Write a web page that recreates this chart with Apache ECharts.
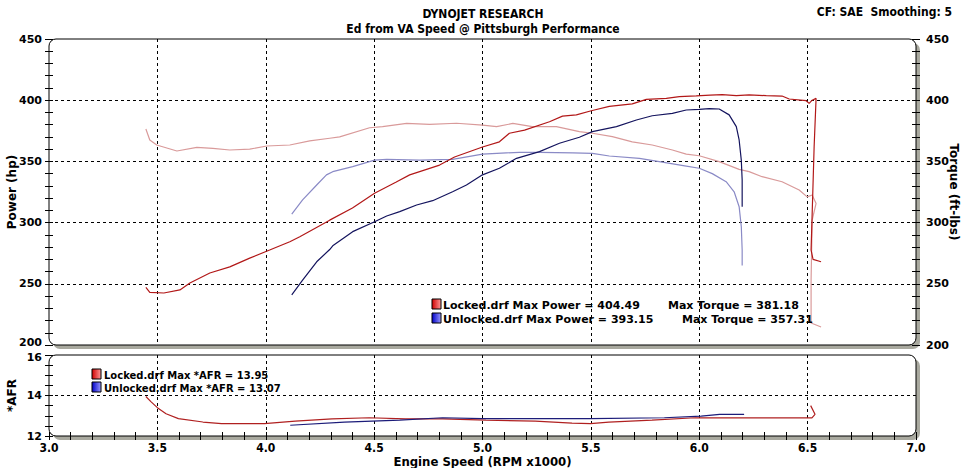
<!DOCTYPE html>
<html>
<head>
<meta charset="utf-8">
<style>
html,body{margin:0;padding:0;background:#fff;}
#chart{width:966px;height:468px;}
</style>
<script src="https://cdn.jsdelivr.net/npm/echarts@6/dist/echarts.min.js"></script>
</head>
<body>
<div id="chart"></div>
<script>
// ---------- data (rpm x1000, value) ----------
const lockedPower = [[3.447,247],[3.465,243],[3.53,242.5],[3.604,245],[3.65,250.6],[3.742,258.8],[3.834,263.8],[3.926,271],[4.018,277.6],[4.111,284.4],[4.157,288.5],[4.295,302],[4.40,312],[4.502,324],[4.60,333],[4.664,339],[4.802,347],[4.871,353.6],[5.0,361.8],[5.078,366],[5.124,373],[5.194,375.6],[5.309,382.4],[5.369,387],[5.433,388],[5.502,391.4],[5.585,395],[5.691,397],[5.756,400.7],[5.848,401.5],[5.908,402.9],[5.986,403.5],[6.05,404.2],[6.106,404.49],[6.171,403.7],[6.23,404.4],[6.309,403.7],[6.382,403.4],[6.415,401],[6.493,399.6],[6.507,397.4],[6.521,400],[6.539,401.5],[6.53,362],[6.521,307.6],[6.516,277.6],[6.525,270],[6.562,268]];
const lockedTorque = [[3.447,376.5],[3.465,367.5],[3.497,363.4],[3.59,358.5],[3.682,361.5],[3.756,360.7],[3.834,359.3],[3.926,360],[4.005,362.6],[4.111,363.4],[4.203,366.7],[4.295,368.9],[4.341,370],[4.479,377.5],[4.539,378.4],[4.65,381],[4.756,380.3],[4.88,381.18],[5.0,379.7],[5.065,378.4],[5.14,381],[5.23,378.4],[5.341,378.4],[5.447,374.3],[5.507,373],[5.599,370.2],[5.691,366],[5.783,363.4],[5.876,359.3],[5.94,356],[6.0,354.6],[6.092,349.8],[6.184,343.5],[6.23,341.6],[6.29,337.5],[6.382,333.4],[6.461,326.6],[6.498,321],[6.521,322.5],[6.539,315.7],[6.521,302],[6.516,253],[6.516,218],[6.562,214.7]];
const unlockedPower = [[4.12,240.9],[4.17,253],[4.235,268],[4.295,278],[4.309,281],[4.401,292.6],[4.502,300.7],[4.558,305.4],[4.618,309],[4.696,314.4],[4.77,317.9],[4.862,325.2],[4.926,330.7],[5.0,339],[5.078,344.4],[5.157,352.5],[5.263,358],[5.355,364.8],[5.447,369.7],[5.507,374.3],[5.618,378.4],[5.71,383.8],[5.783,387.3],[5.876,389.3],[5.94,392],[6.0,392.5],[6.046,393.15],[6.092,392.8],[6.138,388],[6.171,378.4],[6.184,367.5],[6.194,351],[6.198,334.8],[6.198,313]];
const unlockedTorque = [[4.12,307],[4.17,318.5],[4.235,330.7],[4.28,339],[4.309,341.6],[4.401,345.7],[4.502,351],[4.558,351.7],[4.71,351],[4.862,351.7],[5.0,356],[5.11,357],[5.17,357.31],[5.263,357.3],[5.417,357],[5.507,356.5],[5.585,354.4],[5.724,352.5],[5.816,349.8],[5.94,346.2],[6.0,344.4],[6.06,340],[6.124,333.4],[6.161,325.2],[6.184,313],[6.194,296.7],[6.198,277.6],[6.198,265]];
const lockedAFR = [[3.447,13.95],[3.47,13.7],[3.5,13.4],[3.54,13.1],[3.597,12.86],[3.71,12.69],[3.796,12.61],[3.994,12.61],[4.136,12.73],[4.306,12.85],[4.477,12.9],[4.645,12.85],[4.816,12.85],[5.016,12.78],[5.243,12.73],[5.413,12.64],[5.498,12.61],[5.583,12.69],[5.782,12.78],[5.981,12.9],[6.18,12.9],[6.52,12.9],[6.534,13.07],[6.514,13.5]];
const unlockedAFR = [[4.113,12.53],[4.363,12.69],[4.618,12.78],[4.816,12.9],[5.0,12.86],[5.215,12.86],[5.498,12.86],[5.839,12.9],[6.009,12.98],[6.094,13.07],[6.207,13.07]];

const runNames = ['Locked.drf', 'Unlocked.drf'];
const maxPower = ['404.49', '393.15'];
const maxTorque = ['381.18', '357.31'];
const maxAFR = ['13.95', '13.07'];

// ---------- layout ----------
const G0 = {left:49, top:39, width:867, height:306};
const G1 = {left:49, top:355, width:867, height:81};
const cond = "'DejaVu Sans Condensed','Liberation Sans Narrow','DejaVu Sans',sans-serif";
const wide = "'DejaVu Sans',Verdana,sans-serif";

const dashed = {show:true, showMinLine:false, showMaxLine:false, lineStyle:{color:'#000', type:[3,3], width:1}};
const tickStyle = {color:'#000', width:1};

function yAx(grid, pos, min, max, interval, minorSplit, inside, extra){
  return Object.assign({
    type:'value', gridIndex:grid, position:pos, min:min, max:max, interval:interval,
    axisLine:{show:false},
    axisTick:{show:true, inside:inside, length:4, lineStyle:tickStyle},
    minorTick:{show:true, splitNumber:minorSplit, length:4, lineStyle:tickStyle},
    axisLabel:{show:false},
    splitLine:{show:false},
    nameMoveOverlap:false
  }, extra||{});
}

const chart = echarts.init(document.getElementById('chart'), null, {renderer:'svg'});

const legendIcon = (x, y, dark, light) => ({
  type:'rect', shape:{x:x, y:y, width:9, height:10},
  style:{fill:new echarts.graphic.LinearGradient(0,0,1,0,[{offset:0,color:dark},{offset:1,color:light}]), stroke:'#000', lineWidth:1}, z:10
});
const txt = (x, y, text, font) => ({
  type:'text', x:x, y:y, z:10,
  style:{text:text, font:font, fill:'#000', verticalAlign:'middle', align:'left'}
});

const option = {
  animation:false,
  backgroundColor:'#fff',
  title:[
    {text:'DYNOJET RESEARCH', left:'center', top:3, textStyle:{fontFamily:cond, fontSize:12, fontWeight:'bold', color:'#000'}},
    {text:'Ed from VA Speed @ Pittsburgh Performance', left:'center', top:18, textStyle:{fontFamily:cond, fontSize:12, fontWeight:'bold', color:'#000'}},
    {text:'CF: SAE  Smoothing: 5', right:9, top:1, textStyle:{fontFamily:cond, fontSize:12, fontWeight:'bold', color:'#000'}}
  ],
  grid:[
    Object.assign({}, G0, {containLabel:false, outerBoundsMode:'none'}),
    Object.assign({}, G1, {containLabel:false, outerBoundsMode:'none'})
  ],
  xAxis:[
    {type:'value', gridIndex:0, min:3, max:7, interval:0.5, axisLine:{show:false}, axisTick:{show:false}, axisLabel:{show:false}, splitLine:dashed},
    {type:'value', gridIndex:1, min:3, max:7, interval:0.5, position:'bottom',
      axisLine:{show:false},
      axisTick:{show:true, inside:false, length:4, lineStyle:tickStyle},
      minorTick:{show:true, splitNumber:5, length:4, lineStyle:tickStyle},
      axisLabel:{show:true, margin:6, formatter:v=>v.toFixed(1), fontFamily:cond, fontSize:12, fontWeight:'bold', color:'#000'},
      splitLine:dashed,
      name:'Engine Speed (RPM x1000)', nameLocation:'middle', nameGap:19, nameMoveOverlap:false,
      nameTextStyle:{fontFamily:cond, fontSize:13, fontWeight:'bold', color:'#000'}
    },
    {type:'value', gridIndex:1, min:3, max:7, interval:0.5, position:'bottom',
      axisLine:{show:false},
      axisTick:{show:true, inside:true, length:4, lineStyle:tickStyle},
      minorTick:{show:true, splitNumber:5, length:4, lineStyle:tickStyle},
      axisLabel:{show:false}, splitLine:{show:false}
    }
  ],
  yAxis:[
    yAx(0,'left',200,450,50,5,false,{
      axisLabel:{show:true, margin:7, fontFamily:wide, fontSize:11, fontWeight:'bold', color:'#000',
        formatter:v => v === 200 ? '{lo|200}' : String(v),
        rich:{lo:{fontFamily:wide, fontSize:11, fontWeight:'bold', color:'#000', padding:[0,0,5,0]}}},
      splitLine:dashed,
      name:'Power (hp)', nameLocation:'middle', nameGap:31, nameRotate:90,
      nameTextStyle:{fontFamily:wide, fontSize:12, fontWeight:'bold', color:'#000'}
    }),
    yAx(0,'left',200,450,50,5,true),
    yAx(0,'right',200,450,50,5,false,{
      axisLabel:{show:true, margin:10, fontFamily:wide, fontSize:11, fontWeight:'bold', color:'#000'},
      name:'Torque (ft-lbs)', nameLocation:'middle', nameGap:32, nameRotate:-90,
      nameTextStyle:{fontFamily:wide, fontSize:12, fontWeight:'bold', color:'#000'}
    }),
    yAx(0,'right',200,450,50,5,true),
    yAx(1,'left',12,16,2,4,false,{
      axisLabel:{show:true, margin:7, fontFamily:wide, fontSize:11, fontWeight:'bold', color:'#000',
        formatter:v => v === 16 ? '{hi|16}' : String(v),
        rich:{hi:{fontFamily:wide, fontSize:11, fontWeight:'bold', color:'#000', padding:[5,0,0,0]}}},
      splitLine:dashed,
      name:'*AFR', nameLocation:'middle', nameGap:31, nameRotate:90,
      nameTextStyle:{fontFamily:wide, fontSize:12, fontWeight:'bold', color:'#000'}
    }),
    yAx(1,'left',12,16,2,4,true)
  ],
  graphic:[
    {type:'rect', shape:{x:G0.left+4, y:G0.top+4, width:G0.width, height:G0.height, r:7}, style:{fill:'#a9a99f'}, z:-20},
    {type:'rect', shape:{x:G0.left, y:G0.top, width:G0.width, height:G0.height, r:7}, style:{fill:'#fff', stroke:'#000', lineWidth:1}, z:-10},
    {type:'rect', shape:{x:G1.left+4, y:G1.top+4, width:G1.width, height:G1.height, r:7}, style:{fill:'#a9a99f'}, z:-20},
    {type:'rect', shape:{x:G1.left, y:G1.top, width:G1.width, height:G1.height, r:7}, style:{fill:'#fff', stroke:'#000', lineWidth:1}, z:-10},
    legendIcon(432, 299, '#d00000', '#ff9a9a'),
    txt(443, 305, runNames[0] + ' Max Power = ' + maxPower[0], 'bold 11px ' + wide),
    txt(668, 305, 'Max Torque = ' + maxTorque[0], 'bold 11px ' + wide),
    legendIcon(432, 313, '#0000c8', '#9a9aff'),
    txt(443, 319, runNames[1] + ' Max Power = ' + maxPower[1], 'bold 11px ' + wide),
    txt(682, 319, 'Max Torque = ' + maxTorque[1], 'bold 11px ' + wide),
    legendIcon(92, 369, '#d00000', '#ff9a9a'),
    txt(104, 375, runNames[0] + ' Max *AFR = ' + maxAFR[0], 'bold 10px ' + wide),
    legendIcon(92, 382, '#0000c8', '#9a9aff'),
    txt(104, 388, runNames[1] + ' Max *AFR = ' + maxAFR[1], 'bold 10px ' + wide)
  ],
  series:[
    {name:'Locked Torque', type:'line', xAxisIndex:0, yAxisIndex:2, data:lockedTorque, showSymbol:false, lineStyle:{color:'#d99a9a', width:1.2}, z:3},
    {name:'Unlocked Torque', type:'line', xAxisIndex:0, yAxisIndex:2, data:unlockedTorque, showSymbol:false, lineStyle:{color:'#8a8ac6', width:1.2}, z:3},
    {name:'Locked Power', type:'line', xAxisIndex:0, yAxisIndex:0, data:lockedPower, showSymbol:false, lineStyle:{color:'#b21818', width:1.2}, z:4},
    {name:'Unlocked Power', type:'line', xAxisIndex:0, yAxisIndex:0, data:unlockedPower, showSymbol:false, lineStyle:{color:'#14145e', width:1.2}, z:4},
    {name:'Locked AFR', type:'line', xAxisIndex:1, yAxisIndex:4, data:lockedAFR, showSymbol:false, lineStyle:{color:'#b02020', width:1.2}, z:4},
    {name:'Unlocked AFR', type:'line', xAxisIndex:1, yAxisIndex:4, data:unlockedAFR, showSymbol:false, lineStyle:{color:'#1c1c7a', width:1.2}, z:4}
  ]
};
chart.setOption(option);
</script>
</body>
</html>
